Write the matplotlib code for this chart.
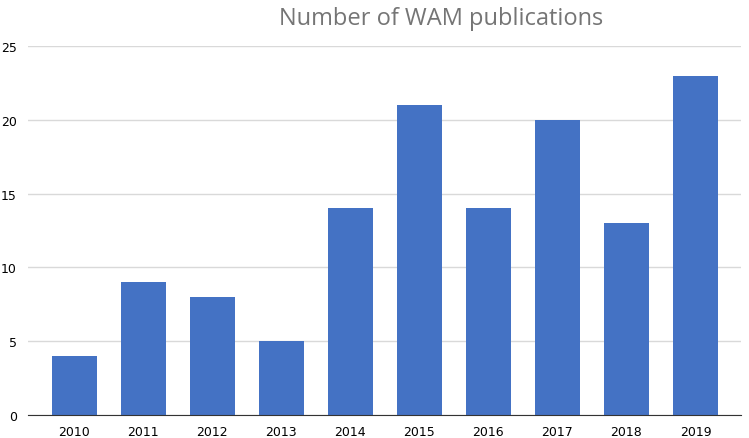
import matplotlib.pyplot as plt

years = ["2010", "2011", "2012", "2013", "2014", "2015", "2016", "2017", "2018", "2019"]
counts = [4, 9, 8, 5, 14, 21, 14, 20, 13, 23]

fig = plt.figure(figsize=(7.49, 4.39), dpi=100)
ax = fig.add_axes([28 / 749, 1 - 416 / 439, (741 - 28) / 749, (416 - 47) / 439])

x = range(len(years))
ax.bar(x, counts, width=0.65, color="#4472C4", zorder=3)

ax.set_xlim(-0.67, 9.66)
ax.set_ylim(0, 25)
ax.set_yticks([0, 5, 10, 15, 20, 25])
ax.set_xticks(list(x))
ax.set_xticklabels(years)
ax.grid(axis="y", color="#d9d9d9", lw=1, zorder=0)
for s in ["top", "right", "left"]:
    ax.spines[s].set_visible(False)
ax.spines["bottom"].set_color("#333333")
ax.spines["bottom"].set_zorder(4)
ax.tick_params(axis="both", length=0, labelsize=9, colors="black")
ax.tick_params(axis="y", pad=8)
ax.tick_params(axis="x", pad=7)

fig.text(441 / 749, 1 - 19 / 439, "Number of WAM publications", ha="center", va="center",
         fontsize=17, color="#757575", family="Open Sans")

fig.savefig("out.png", dpi=100)
